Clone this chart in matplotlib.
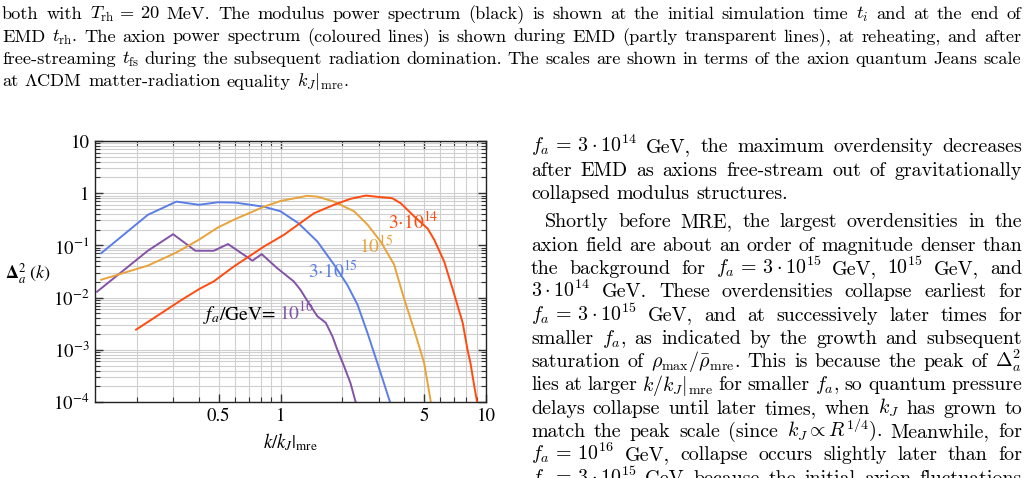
import matplotlib
matplotlib.use("Agg")
import matplotlib.pyplot as plt
from matplotlib.ticker import FixedLocator, NullFormatter

# ---- data: k/k_J|mre and Delta_a^2(k) ----
k_3e15 = [0.134, 0.226, 0.311, 0.40, 0.495, 0.603, 0.83, 1.0, 1.22, 1.51, 1.82,
          2.11, 2.37, 2.65, 3.07, 3.41]
d_3e15 = [0.071, 0.385, 0.69, 0.60, 0.67, 0.66, 0.55, 0.45, 0.267, 0.119, 0.043,
          0.0177, 0.0073, 0.0021, 3.6e-4, 1.0e-4]

k_1e15 = [0.134, 0.226, 0.311, 0.40, 0.495, 0.603, 0.83, 1.0, 1.35, 1.51, 1.82,
          2.28, 2.65, 3.07, 3.57, 3.95, 4.47, 5.0, 5.39]
d_1e15 = [0.022, 0.041, 0.073, 0.128, 0.22, 0.32, 0.55, 0.71, 0.89, 0.86, 0.69,
          0.45, 0.25, 0.119, 0.043, 0.011, 0.0024, 5.6e-4, 1.0e-4]

k_3e14 = [0.198, 0.335, 0.407, 0.473, 0.59, 0.83, 1.04, 1.45, 1.82, 2.19, 2.6,
          3.07, 3.5, 3.85, 4.47, 5.2, 5.6, 6.26, 6.9, 7.7, 8.13, 8.4, 8.77, 9.05]
d_3e14 = [0.00243, 0.0094, 0.015, 0.0204, 0.039, 0.095, 0.16, 0.41, 0.6, 0.78, 0.90,
          0.84, 0.80, 0.64, 0.36, 0.21, 0.128, 0.049, 0.0141, 0.0033, 0.001,
          5.6e-4, 2.0e-4, 1.0e-4]

k_1e16 = [0.128, 0.226, 0.30, 0.385, 0.473, 0.555, 0.73, 0.81, 0.96, 1.16, 1.25,
          1.37, 1.51, 1.66, 1.79, 1.89, 2.04, 2.19, 2.32]
d_1e16 = [0.013, 0.079, 0.164, 0.079, 0.079, 0.106, 0.051, 0.068, 0.037, 0.0204,
          0.0141, 0.0079, 0.0044, 0.0033, 0.0018, 0.001, 4.8e-4, 2.3e-4, 1.0e-4]

x_major = [0.5, 1, 5, 10]
x_major_labels = ["0.5", "1", "5", "10"]
x_minor = [0.2, 0.3, 0.4, 0.6, 0.7, 0.8, 0.9, 2, 3, 4, 6, 7, 8, 9]
y_major = [1e-4, 1e-3, 1e-2, 1e-1, 1, 10]
y_major_labels = [r"$10^{-4}$", r"$10^{-3}$", r"$10^{-2}$", r"$10^{-1}$", "1", "10"]

# paper text around the figure
caption_lines = [
    r"both with $T_{\mathrm{rh}}\, =\, 20$ MeV. The modulus power spectrum (black) is shown at the initial simulation time $t_i$ and at the end of",
    r"EMD $t_{\mathrm{rh}}$. The axion power spectrum (coloured lines) is shown during EMD (partly transparent lines), at reheating, and after",
    r"free-streaming $t_{\mathrm{fs}}$ during the subsequent radiation domination. The scales are shown in terms of the axion quantum Jeans scale",
    r"at $\Lambda$CDM matter-radiation equality $k_J|_{\mathrm{mre}}$.",
]
caption_justify = [True, True, True, False]

body_lines = [
    r"$f_a\, =\, 3\cdot10^{14}$ GeV, the maximum overdensity decreases",
    r"after EMD as axions free-stream out of gravitationally",
    r"collapsed modulus structures.",
    r"Shortly before MRE, the largest overdensities in the",
    r"axion field are about an order of magnitude denser than",
    r"the background for $f_a\, =\, 3\cdot10^{15}$ GeV, $10^{15}$ GeV, and",
    r"$3\cdot10^{14}$ GeV. These overdensities collapse earliest for",
    r"$f_a\, =\, 3\cdot10^{15}$ GeV, and at successively later times for",
    r"smaller $f_a$, as indicated by the growth and subsequent",
    r"saturation of $\rho_{\mathrm{max}}/\bar{\rho}_{\mathrm{mre}}$. This is because the peak of $\Delta_a^2$",
    r"lies at larger $k/k_J|_{\mathrm{mre}}$ for smaller $f_a$, so quantum pressure",
    r"delays collapse until later times, when $k_J$ has grown to",
    r"match the peak scale (since $k_J \propto R^{1/4}$). Meanwhile, for",
    r"$f_a\, =\, 10^{16}$ GeV, collapse occurs slightly later than for",
    r"$f_a\, =\, 3\cdot10^{15}$ GeV because the initial axion fluctuations",
]
body_justify = [True, True, False] + [True] * 12
body_indent = [False, False, False, True] + [False] * 11
body_parskip = [0, 0, 0, 5] + [5] * 11

W, H = 1030, 478
BLUE = "#5b7ee6"
ORANGE = "#e9a33b"
RED = "#ff4b0f"
PURPLE = "#8452a6"


def split_words(s):
    """split on spaces that are not inside $...$"""
    words, cur, inmath = [], "", False
    for ch in s:
        if ch == "$":
            inmath = not inmath
        if ch == " " and not inmath:
            if cur:
                words.append(cur)
            cur = ""
        else:
            cur += ch
    if cur:
        words.append(cur)
    return words


def put_line(fig, renderer, s, x0, x1, y, justify, size):
    """place one line of text in pixel coords, justified if asked"""
    words = split_words(s)
    texts = []
    widths = []
    for w in words:
        t = fig.text(0, 0, w, fontsize=size, family="cmr10", math_fontfamily="cm",
                     va="baseline", ha="left")
        texts.append(t)
        widths.append(t.get_window_extent(renderer).width)
    space = size * 100 / 72 * 0.333
    if justify and len(words) > 1:
        gap = (x1 - x0 - sum(widths)) / (len(words) - 1)
    else:
        gap = space
    x = x0
    for t, w in zip(texts, widths):
        t.set_position((x / W, 1 - y / H))
        x += w + gap


fig = plt.figure(figsize=(W / 100, H / 100), dpi=100)
renderer = fig.canvas.get_renderer()

# ---- chart ----
ax = fig.add_axes([95 / W, 1 - 402 / H, (486 - 95) / W, (402 - 141) / H])
ax.set_xscale("log")
ax.set_yscale("log")

lw = 1.4
ax.plot(k_1e16, d_1e16, color=PURPLE, lw=lw)
ax.plot(k_3e15, d_3e15, color=BLUE, lw=lw)
ax.plot(k_1e15, d_1e15, color=ORANGE, lw=lw)
ax.plot(k_3e14, d_3e14, color=RED, lw=lw)

ax.set_xlim(0.125, 10)
ax.set_ylim(1e-4, 10)

ax.xaxis.set_major_locator(FixedLocator(x_major))
ax.xaxis.set_minor_locator(FixedLocator(x_minor))
ax.set_xticklabels(x_major_labels)
ax.xaxis.set_minor_formatter(NullFormatter())
ax.yaxis.set_major_locator(FixedLocator(y_major))
y_minor = [m * d for d in [1e-4, 1e-3, 1e-2, 1e-1, 1] for m in range(2, 10)]
ax.yaxis.set_minor_locator(FixedLocator(y_minor))
ax.set_yticklabels(y_major_labels)
ax.yaxis.set_minor_formatter(NullFormatter())

ax.grid(True, which="both", color="#cfcfcf", lw=0.8)
ax.set_axisbelow(True)
ax.tick_params(which="both", direction="in", top=True, right=True, color="#333333")
ax.tick_params(which="major", length=6, width=1, labelsize=13.5, pad=4)
ax.tick_params(which="minor", length=3.5, width=0.8)
for lab in ax.get_xticklabels() + ax.get_yticklabels():
    lab.set_family("STIXGeneral")
    lab.set_math_fontfamily("stix")
for sp in ax.spines.values():
    sp.set_linewidth(1.0)
    sp.set_color("#222222")

lab_kw = dict(fontsize=14, family="STIXGeneral", math_fontfamily="stix", va="baseline")
ax.text(3.33, 0.207, r"$3{\cdot}10^{14}$", color=RED, **lab_kw)
ax.text(2.4, 0.0716, r"$10^{15}$", color=ORANGE, **lab_kw)
ax.text(1.355, 0.023, r"$3{\cdot}10^{15}$", color=BLUE, **lab_kw)
ax.text(0.42, 0.0038, r"$f_a/\mathrm{GeV}$=", color="black", **lab_kw)
ax.text(0.985, 0.0038, r"$10^{16}$", color=PURPLE, **lab_kw)

fig.text(28 / W, 1 - 274 / H, r"$\mathbf{\Delta}^{2}_{a}\ (k)$", ha="center", va="center",
         fontsize=13, family="STIXGeneral", math_fontfamily="stix")
fig.text(290 / W, 1 - 442 / H, r"$k/k_J|_{\mathrm{mre}}$", ha="center", va="center",
         fontsize=13.5, family="STIXGeneral", math_fontfamily="stix")

# ---- surrounding page text ----
for i, (s, j) in enumerate(zip(caption_lines, caption_justify)):
    put_line(fig, renderer, s, 2, 1021, 19 + 22.5 * i, j, 13.2)

for i, (s, j, ind, skip) in enumerate(zip(body_lines, body_justify, body_indent, body_parskip)):
    x0 = 545 if ind else 531
    put_line(fig, renderer, s, x0, 1022, 152.5 + 23.3 * i + skip, j, 14.4)

fig.savefig("out.png", dpi=100)
